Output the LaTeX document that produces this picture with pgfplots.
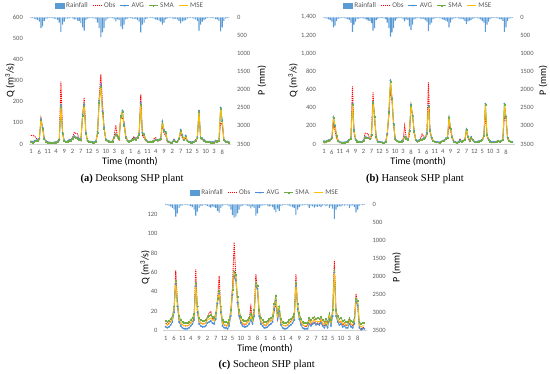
\documentclass[border=0pt]{standalone}
\usepackage{pgfplots}
\usepackage{pgfplotstable}
\pgfplotsset{compat=1.18}
\usepackage{fontspec}
\setmainfont{Carlito}
\newfontfamily\capfont{Liberation Serif}
\definecolor{rain}{HTML}{5B9BD5}
\definecolor{obs}{HTML}{FF0000}
\definecolor{avg}{HTML}{4A8FD6}
\definecolor{sma}{HTML}{70AD47}
\definecolor{mse}{HTML}{FFC000}
\definecolor{tickgray}{HTML}{595959}

\pgfplotstableread{
i R O A S M
0 20 40 12 9 10
1 25 40 10 7 8
2 40 38 14 11 12
3 60 30 17 13 15
4 80 15 20 16 18
5 120 20 27 23 25
6 300 120 118 112 115
7 250 75 78 72 75
8 100 25 27 23 25
9 40 15 13 11 12
10 30 10 9 7 8
11 15 8 7 5 6
12 15 5 6 4 5
13 20 5 6 4 5
14 35 6 7 5 6
15 50 8 9 7 8
16 70 12 13 11 12
17 150 15 22 18 20
18 410 295 185 176 180
19 200 50 53 47 50
20 120 15 17 13 15
21 40 8 11 9 10
22 35 10 13 11 12
23 20 20 19 16 18
24 20 20 19 17 18
25 30 30 27 23 25
26 60 55 37 33 35
27 55 50 32 28 30
28 90 48 30 26 28
29 100 20 24 20 22
30 160 15 22 18 20
31 280 130 138 132 135
32 370 220 188 182 185
33 80 55 53 48 50
34 40 15 16 14 15
35 20 10 11 9 10
36 15 8 11 9 10
37 20 6 9 7 8
38 30 5 9 7 8
39 50 10 13 11 12
40 150 45 57 53 55
41 300 220 205 195 200
42 550 330 282 270 275
43 420 190 155 146 150
44 300 70 78 72 75
45 90 20 23 21 22
46 40 12 16 14 15
47 25 10 13 11 12
48 20 10 11 9 10
49 25 15 13 11 12
50 60 35 32 28 30
51 110 90 47 43 45
52 60 30 37 33 35
53 80 20 27 23 25
54 250 135 133 127 130
55 330 120 158 152 155
56 200 105 93 87 90
57 60 40 32 28 30
58 40 15 16 14 15
59 20 12 13 11 12
60 25 15 16 14 15
61 35 25 21 19 20
62 50 35 27 23 25
63 40 25 23 21 22
64 80 30 32 28 30
65 120 50 47 43 45
66 420 235 195 186 190
67 200 40 53 48 50
68 150 30 47 43 45
69 50 15 21 19 20
70 30 12 13 11 12
71 15 10 11 9 10
72 15 8 11 9 10
73 25 10 11 9 10
74 40 25 16 14 15
75 60 30 21 19 20
76 70 15 19 17 18
77 90 15 21 19 20
78 120 20 27 23 25
79 200 95 108 102 105
80 150 50 67 63 65
81 60 40 57 53 55
82 30 10 16 14 15
83 20 8 11 9 10
84 15 5 7 5 6
85 30 8 9 7 8
86 50 22 19 17 18
87 40 8 11 9 10
88 60 10 13 11 12
89 100 20 27 23 25
90 170 55 67 63 65
91 110 30 42 38 40
92 90 15 21 19 20
93 80 30 40 36 38
94 40 12 16 14 15
95 20 8 11 9 10
96 15 6 9 7 8
97 20 8 9 7 8
98 40 10 11 9 10
99 60 20 16 14 15
100 100 25 32 28 30
101 370 150 158 152 155
102 200 25 32 28 30
103 120 20 27 23 25
104 80 15 19 17 18
105 50 10 13 11 12
106 25 8 11 9 10
107 15 10 11 9 10
108 15 5 9 7 8
109 20 6 9 7 8
110 30 8 9 7 8
111 50 10 16 14 15
112 60 10 13 11 12
113 100 12 16 14 15
114 390 100 173 167 170
115 280 90 113 107 110
116 100 15 21 19 20
117 40 10 13 11 12
118 25 8 11 9 10
119 15 5 9 7 8
}\dataA

\pgfplotstableread{
i R O A S M
0 20 15 32 28 30
1 25 10 27 23 25
2 40 20 37 33 35
3 60 30 42 38 40
4 80 35 47 43 45
5 120 60 73 67 70
6 280 220 295 285 290
7 230 150 205 195 200
8 100 60 93 87 90
9 40 25 37 33 35
10 30 15 22 18 20
11 15 10 17 13 15
12 15 10 17 13 15
13 20 10 17 13 15
14 35 15 22 18 20
15 50 25 32 28 30
16 70 40 47 43 45
17 150 60 63 57 60
18 400 640 445 435 440
19 200 120 155 145 150
20 120 40 52 48 50
21 40 25 32 28 30
22 35 20 27 23 25
23 20 15 22 18 20
24 20 20 27 23 25
25 30 35 42 38 40
26 60 120 78 72 75
27 55 115 73 67 70
28 90 110 68 62 65
29 100 50 57 53 55
30 160 70 103 97 100
31 370 570 465 455 460
32 300 250 305 295 300
33 80 60 83 77 80
34 40 25 32 28 30
35 20 20 22 18 20
36 15 15 22 18 20
37 20 10 17 13 15
38 30 10 17 13 15
39 50 20 27 23 25
40 150 110 113 107 110
41 300 300 355 345 350
42 535 600 705 690 690
43 420 480 505 495 500
44 300 200 225 215 220
45 90 50 63 57 60
46 40 30 37 33 35
47 25 20 27 23 25
48 20 20 27 23 25
49 25 30 32 28 30
50 60 50 42 38 40
51 110 200 83 77 80
52 60 60 63 57 60
53 80 40 52 48 50
54 250 100 153 147 150
55 350 400 435 425 430
56 200 330 315 305 310
57 60 120 143 137 140
58 40 40 47 43 45
59 20 25 32 28 30
60 25 30 42 38 40
61 35 60 47 43 45
62 50 110 52 48 50
63 40 80 63 57 60
64 80 70 73 67 70
65 120 100 123 117 120
66 380 680 425 415 420
67 200 130 153 147 150
68 150 60 73 67 70
69 50 30 37 33 35
70 30 20 27 23 25
71 15 15 22 18 20
72 15 15 22 18 20
73 25 10 17 13 15
74 40 20 27 23 25
75 60 30 37 33 35
76 70 35 42 38 40
77 90 50 63 57 60
78 120 60 73 67 70
79 280 200 295 285 290
80 150 150 173 167 170
81 60 60 83 77 80
82 30 25 32 28 30
83 20 15 22 18 20
84 15 10 17 13 15
85 30 15 22 18 20
86 50 60 42 38 40
87 40 20 27 23 25
88 60 30 37 33 35
89 100 40 47 43 45
90 190 150 163 157 160
91 110 60 83 77 80
92 90 30 42 38 40
93 80 70 78 72 75
94 40 40 47 43 45
95 20 20 27 23 25
96 15 15 22 18 20
97 20 20 27 23 25
98 40 25 32 28 30
99 60 30 37 33 35
100 100 40 47 43 45
101 150 80 93 87 90
102 400 330 445 435 440
103 200 90 103 97 100
104 120 40 52 48 50
105 50 25 32 28 30
106 25 15 22 18 20
107 15 15 22 18 20
108 15 15 22 18 20
109 20 20 27 23 25
110 30 30 37 33 35
111 50 20 27 23 25
112 60 30 37 33 35
113 100 40 47 43 45
114 400 300 445 435 440
115 280 280 305 295 300
116 100 60 73 67 70
117 40 30 37 33 35
118 25 20 27 23 25
119 15 15 22 18 20
}\dataB

\pgfplotstableread{
i R O A S M
0 20 8 4 10 7
1 25 6 3 9 6
2 40 8 4 10 7
3 60 10 6 12 9
4 100 12 9 15 12
5 150 20 19 25 22
6 340 62 48 51 50
7 250 30 25 31 28
8 100 12 9 15 12
9 40 8 5 11 8
10 30 6 3 9 6
11 15 5 2 8 5
12 15 5 2 8 5
13 20 5 2 8 5
14 35 6 3 9 6
15 50 8 5 11 8
16 80 10 7 13 10
17 150 12 11 17 14
18 315 63 46 49 48
19 200 20 19 25 22
20 100 10 7 13 10
21 40 8 5 11 8
22 35 7 4 10 7
23 20 7 4 10 7
24 20 8 5 11 8
25 50 14 8 14 11
26 80 18 9 15 12
27 90 20 10 16 13
28 60 12 8 14 11
29 80 10 7 13 10
30 100 15 12 18 15
31 180 30 28 33 30
32 232 56 38 41 40
33 100 20 19 25 22
34 40 8 5 11 8
35 20 6 3 9 6
36 15 5 3 9 6
37 20 5 2 8 5
38 60 8 5 11 8
39 150 20 15 21 18
40 300 45 37 42 40
41 370 91 56 61 58
42 340 55 52 57 55
43 250 30 29 35 32
44 150 15 15 21 18
45 60 10 8 14 11
46 40 7 5 11 8
47 25 6 4 10 7
48 20 6 4 10 7
49 40 10 5 11 8
50 60 12 7 13 10
51 110 25 11 17 14
52 60 10 7 13 10
53 100 20 15 21 18
54 315 58 46 49 48
55 250 40 43 46 45
56 100 15 15 21 18
57 50 10 7 13 10
58 30 8 5 11 8
59 20 6 3 9 6
60 20 5 3 9 6
61 40 8 4 10 7
62 60 12 6 12 9
63 50 10 7 13 10
64 80 12 9 15 12
65 150 20 22 28 25
66 222 30 31 36 33
67 120 12 12 18 15
68 180 22 20 25 22
69 50 8 6 12 9
70 30 6 3 9 6
71 15 5 2 8 5
72 15 5 2 8 5
73 25 6 3 9 6
74 40 8 5 11 8
75 60 10 6 12 9
76 80 12 8 14 11
77 100 15 11 17 14
78 290 58 46 49 48
79 150 22 22 28 25
80 80 15 12 18 15
81 40 8 6 12 9
82 30 6 3 9 6
83 20 5 2 8 5
84 15 4 2 8 5
85 30 6 2 8 5
86 100 14 7 13 10
87 40 6 5 11 8
88 60 8 7 13 10
89 90 12 8 14 11
90 60 7 6 12 9
91 70 8 7 13 10
92 50 6 6 12 9
93 80 12 8 14 11
94 40 6 5 11 8
95 20 5 3 9 6
96 50 10 6 12 9
97 30 6 3 9 6
98 100 15 12 18 15
99 50 8 5 11 8
100 120 20 15 21 18
101 407 72 60 63 62
102 150 20 15 21 18
103 80 12 9 15 12
104 50 8 6 12 9
105 60 10 7 13 10
106 30 6 4 10 7
107 40 8 5 11 8
108 20 5 3 9 6
109 30 6 3 9 6
110 100 12 7 13 10
111 40 6 4 10 7
112 30 5 3 9 6
113 80 10 7 13 10
114 222 38 30 33 32
115 150 25 26 31 28
116 40 3 3 9 6
117 20 2 1 7 4
118 25 3 2 8 5
119 15 4 2 8 5
}\dataC

\pgfplotsset{
  common/.style={
    scale only axis, xmin=-1.5, xmax=120.5,
    tick style={draw=none},
    ticklabel style={font=\fontsize{6.5}{7}\selectfont, text=tickgray},
    /pgf/number format/assume math mode=true,
    label style={font=\bfseries\fontsize{7}{8}\selectfont, text=tickgray},
  },
  qaxis/.style={
    common, ymin=0,
    axis x line=bottom, axis y line=left,
    x axis line style={-, draw=black!18},
    y axis line style={draw=none},
    xtick={0,5,...,115},
    xticklabels={1,6,11,4,9,2,7,12,5,10,3,8,1,6,11,4,9,2,7,12,5,10,3,8},
    xlabel={Time (month)},
    ylabel={Q (m\textsuperscript{3}/s)},
    every axis x label/.style={at={(0.5,0)}, anchor=center, yshift=-18pt},
    every axis y label/.style={at={(0,0.5)}, xshift=#1, anchor=center, rotate=90},
    legend columns=5,
    legend style={draw=none, fill=none, font=\fontsize{7.2}{8}\selectfont, text=tickgray,
      at={(0.5,1)}, anchor=center, yshift=11.6pt,
      /tikz/every even column/.append style={column sep=2.5pt}},
    legend image code/.code={\draw[mark repeat=2,mark phase=2,##1] plot coordinates {(0pt,0pt) (4.5pt,0pt) (9pt,0pt)};},
  },
  paxis/.style={
    common, ymin=0, ymax=3500, y dir=reverse,
    axis x line=none, axis y line=right,
    y axis line style={draw=none},
    xtick=\empty,
    ytick={0,500,...,3500},
    yticklabel style={/pgf/number format/1000 sep={}},
    ylabel={P (mm)},
    every axis y label/.style={at={(1,0.5)}, xshift=#1, anchor=center, rotate=90},
  },
  obsst/.style={obs, line width=0.9pt, dash pattern=on 1.2pt off 0.9pt, no marks},
  avgst/.style={avg, line width=0.7pt, mark=*, mark size=0.55pt, mark options={solid}},
  smast/.style={sma, line width=0.7pt, mark=square*, mark size=0.45pt, mark options={solid}},
  msest/.style={mse, line width=0.8pt, no marks},
}

\newcommand{\panel}[9]{%
  \begin{axis}[paxis=#9, at={(#2,#3)}, anchor=south west, width=#4, height=#5]
    \addplot[ybar, bar width=1.1pt, fill=rain, draw=none] table[x=i, y=R] {#1};
  \end{axis}
  \begin{axis}[qaxis=#8, at={(#2,#3)}, anchor=south west, width=#4, height=#5, ymax=#6, ytick={#7}]
    \addlegendimage{legend image code/.code={\fill[rain] (0pt,-2.2pt) rectangle (9pt,2.2pt);}}
    \addplot[obsst] table[x=i, y=O] {#1};
    \addplot[avgst] table[x=i, y=A] {#1};
    \addplot[smast] table[x=i, y=S] {#1};
    \addplot[msest] table[x=i, y=M] {#1};
    \legend{Rainfall, Obs, AVG, SMA, MSE}
  \end{axis}
}

\begin{document}
\begin{tikzpicture}
\useasboundingbox (0,0) rectangle (550pt,374pt);
\panel{\dataA}{28.5pt}{230pt}{202.9pt}{126.7pt}{600}{0,100,...,600}{-18.5pt}{30.6pt}
\panel{\dataB}{321.6pt}{230pt}{193.1pt}{126.7pt}{1400}{0,200,...,1400}{-28.6pt}{28.5pt}
\panel{\dataC}{163.2pt}{43.3pt}{203.7pt}{126.4pt}{130}{0,20,...,120}{-18.2pt}{29.8pt}
\node[font=\capfont\fontsize{10.5}{12}\selectfont] at (132pt,195pt) {\textbf{(a)} Deoksong SHP plant};
\node[font=\capfont\fontsize{10.5}{12}\selectfont] at (415pt,195pt) {\textbf{(b)} Hanseok SHP plant};
\node[font=\capfont\fontsize{10.5}{12}\selectfont] at (266.7pt,9pt) {\textbf{(c)} Socheon SHP plant};
\end{tikzpicture}
\end{document}
